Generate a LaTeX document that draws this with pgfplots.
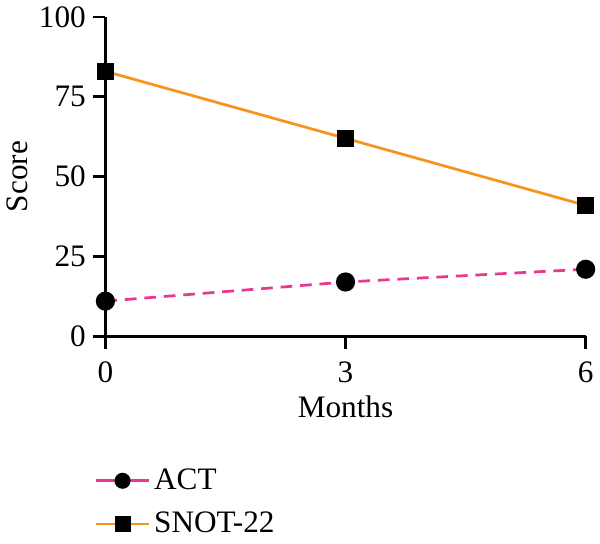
\documentclass[border=0pt]{standalone}
\usepackage{fontspec}
\setmainfont{Liberation Serif}
\usepackage{pgfplots}
\pgfplotsset{compat=1.18}
\definecolor{actpink}{HTML}{E8388F}
\definecolor{snotorange}{HTML}{F7941D}
\begin{document}
\begin{tikzpicture}[font=\fontsize{16}{19}\selectfont]
\begin{axis}[
  scale only axis,
  width=246pt, height=163.5pt,
  xmin=0, xmax=6, ymin=0, ymax=100,
  xtick={0,3,6}, ytick={0,25,50,75,100},
  axis lines*=left,
  axis line style={line width=1.4pt, -},
  tick style={line width=1.4pt, black},
  tick align=outside,
  major tick length=6.5pt,
  clip=false,
  /pgf/number format/assume math mode=true,
  xticklabel style={yshift=-3pt},
  xlabel={Months}, ylabel={Score},
  xlabel style={yshift=0pt},
  ylabel style={yshift=-1pt},
  legend style={draw=none, fill=none, at={(rel axis cs:-0.035,-0.39)}, anchor=north west,
    row sep=6pt, font=\fontsize{16}{19}\selectfont},
  legend cell align=left,
  legend image code/.code={
    \draw[#1, solid] (0cm,0cm) -- (27pt,0cm);
    \draw[#1, solid, only marks, mark size=3.4pt] plot coordinates {(13.5pt,0cm)};
  },
]
\addplot[actpink, line width=1.4pt, dashed, dash pattern=on 6pt off 4pt,
  mark=*, mark size=4.2pt, mark options={solid, fill=black, draw=black}]
  coordinates {(0,11) (3,17) (6,21)};
\addlegendentry{ACT}
\addplot[snotorange, line width=1.4pt,
  mark=square*, mark size=3.8pt, mark options={fill=black, draw=black}]
  coordinates {(0,83) (3,62) (6,41)};
\addlegendentry{SNOT-22}
\end{axis}
\end{tikzpicture}
\end{document}
